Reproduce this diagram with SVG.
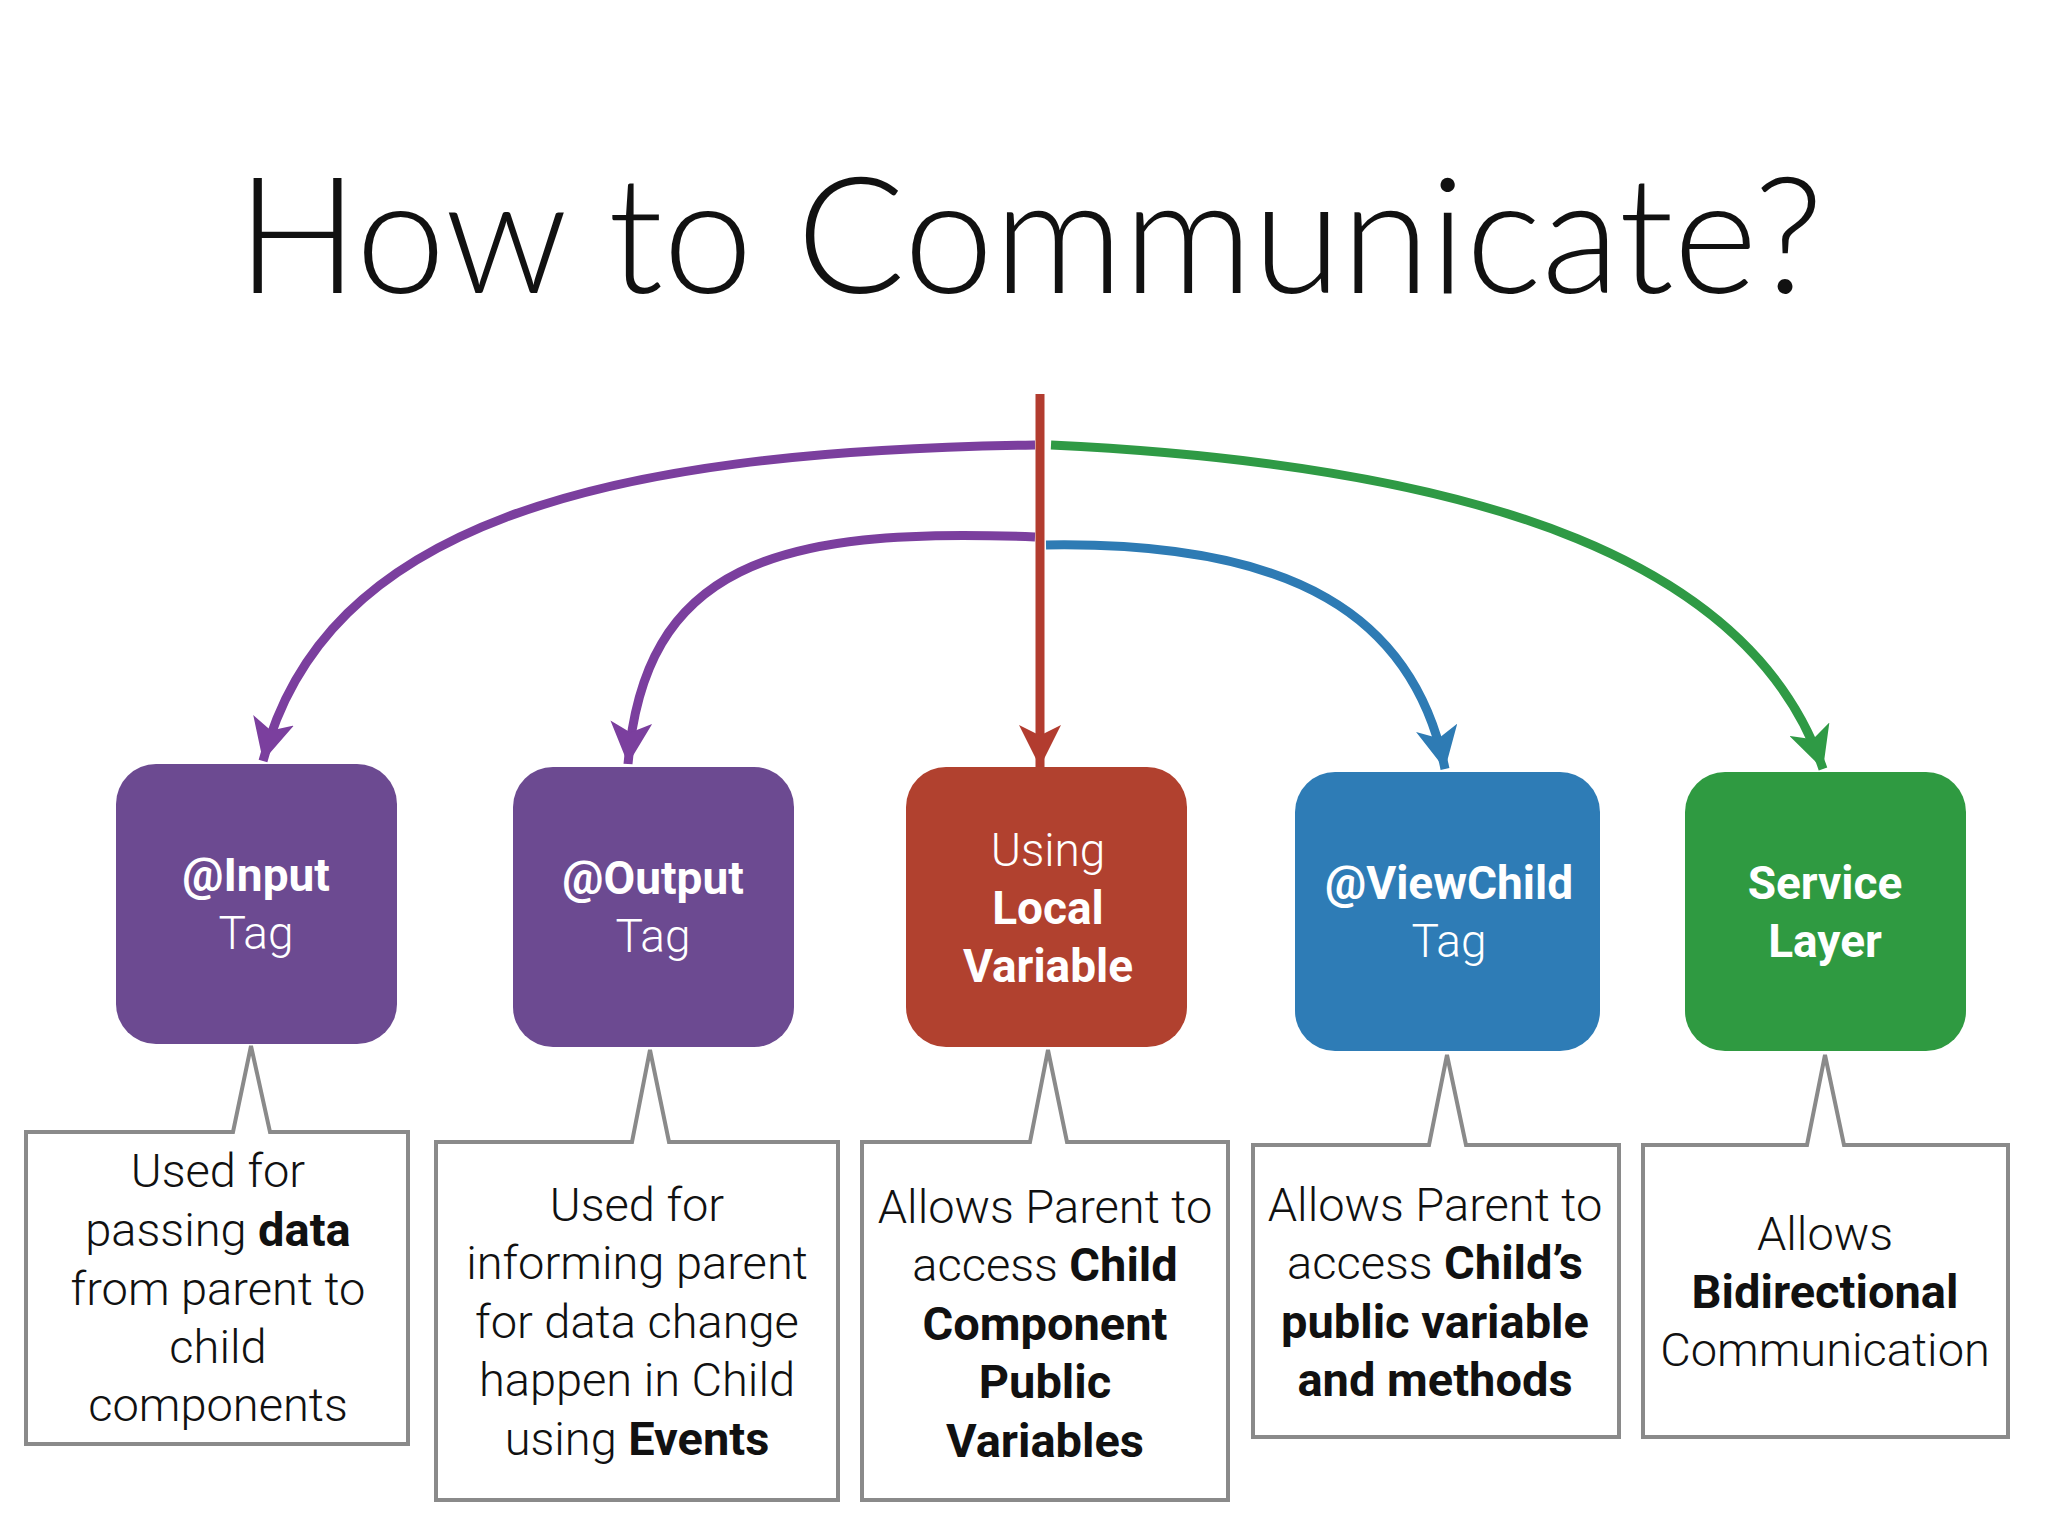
<svg xmlns="http://www.w3.org/2000/svg" width="2048" height="1536" viewBox="0 0 2048 1536">
<defs>
<style>
.title{font-family:Lato,"Open Sans",sans-serif;font-weight:300;font-size:161px;fill:#111}
.bt{font-family:Roboto,"Liberation Sans",sans-serif;font-size:46px;fill:#fff;text-anchor:middle}
.b{font-weight:700}
.l{font-weight:300}
.ct{font-family:Roboto,"Liberation Sans",sans-serif;font-weight:300;font-size:47px;fill:#111;text-anchor:middle}
.call{fill:#fff;stroke:#8a8a8a;stroke-width:4}
.ln{fill:none;stroke-width:9}
</style>
<marker id="aP" viewBox="0 0 10 10" refX="10" refY="5" markerWidth="42" markerHeight="42" markerUnits="userSpaceOnUse" orient="auto"><path d="M0,0 L10,5 L0,10 L2.5,5 z" fill="#7b3f9e"/></marker>
<marker id="aR" viewBox="0 0 10 10" refX="10" refY="5" markerWidth="42" markerHeight="42" markerUnits="userSpaceOnUse" orient="auto"><path d="M0,0 L10,5 L0,10 L2.5,5 z" fill="#b23c2f"/></marker>
<marker id="aB" viewBox="0 0 10 10" refX="10" refY="5" markerWidth="42" markerHeight="42" markerUnits="userSpaceOnUse" orient="auto"><path d="M0,0 L10,5 L0,10 L2.5,5 z" fill="#2e7bb4"/></marker>
<marker id="aG" viewBox="0 0 10 10" refX="10" refY="5" markerWidth="42" markerHeight="42" markerUnits="userSpaceOnUse" orient="auto"><path d="M0,0 L10,5 L0,10 L2.5,5 z" fill="#2f9a45"/></marker>
</defs>
<rect width="2048" height="1536" fill="#fff"/>
<text class="title" x="1030" y="293" text-anchor="middle">How to Communicate?</text>
<g transform="translate(-6,-4)">
<g id="connectors">
<path class="ln" stroke="#7b3f9e" d="M1041 449 C600 455 330 530 269 765" marker-end="url(#aP)"/>
<path class="ln" stroke="#7b3f9e" d="M1041 541 C780 530 650 570 634 768" marker-end="url(#aP)"/>
<path class="ln" stroke="#2e7bb4" d="M1052 549 C1300 545 1420 620 1451 773" marker-end="url(#aB)"/>
<path class="ln" stroke="#2f9a45" d="M1057 449 C1500 470 1760 570 1829 773" marker-end="url(#aG)"/>
<path class="ln" stroke="#b23c2f" d="M1046 398 L1046 771" marker-end="url(#aR)"/>
</g>
<g id="n1"><rect x="122" y="768" width="281" height="280" rx="40" fill="#6c4a91"/>
<text class="bt" x="262" y="895"><tspan class="b">@Input</tspan><tspan class="l" x="262" dy="58">Tag</tspan></text></g>
<g id="n2"><rect x="519" y="771" width="281" height="280" rx="40" fill="#6c4a91"/>
<text class="bt" x="659" y="898"><tspan class="b">@Output</tspan><tspan class="l" x="659" dy="58">Tag</tspan></text></g>
<g id="n3"><rect x="912" y="771" width="281" height="280" rx="40" fill="#b1412f"/>
<text class="bt" x="1054" y="870"><tspan class="l">Using</tspan><tspan class="b" x="1054" dy="58">Local</tspan><tspan class="b" x="1054" dy="58">Variable</tspan></text></g>
<g id="n4"><rect x="1301" y="776" width="305" height="279" rx="40" fill="#2e7cb6"/>
<text class="bt" x="1455" y="903"><tspan class="b">@ViewChild</tspan><tspan class="l" x="1455" dy="58">Tag</tspan></text></g>
<g id="n5"><rect x="1691" y="776" width="281" height="279" rx="40" fill="#2f9a41"/>
<text class="bt" x="1831" y="903"><tspan class="b">Service</tspan><tspan class="b" x="1831" dy="58">Layer</tspan></text></g>
<g id="c1"><path class="call" d="M32 1136 H239 L257 1050 L276 1136 H414 V1448 H32 Z"/>
<text class="ct" x="224" y="1191">Used for<tspan x="224" dy="59">passing <tspan class="b">data</tspan></tspan><tspan x="224" dy="59">from parent to</tspan><tspan x="224" dy="58">child</tspan><tspan x="224" dy="58">components</tspan></text></g>
<g id="c2"><path class="call" d="M442 1146 H638 L656 1054 L675 1146 H844 V1504 H442 Z"/>
<text class="ct" x="643" y="1225">Used for<tspan x="643" dy="58">informing parent</tspan><tspan x="643" dy="59">for data change</tspan><tspan x="643" dy="58">happen in Child</tspan><tspan x="643" dy="59">using <tspan class="b">Events</tspan></tspan></text></g>
<g id="c3"><path class="call" d="M868 1146 H1036 L1054 1054 L1073 1146 H1234 V1504 H868 Z"/>
<text class="ct" x="1051" y="1227">Allows Parent to<tspan x="1051" dy="58">access <tspan class="b">Child</tspan></tspan><tspan class="b" x="1051" dy="59">Component</tspan><tspan class="b" x="1051" dy="58">Public</tspan><tspan class="b" x="1051" dy="59">Variables</tspan></text></g>
<g id="c4"><path class="call" d="M1259 1149 H1435 L1453 1059 L1472 1149 H1625 V1441 H1259 Z"/>
<text class="ct" x="1441" y="1225">Allows Parent to<tspan x="1441" dy="58">access <tspan class="b">Child’s</tspan></tspan><tspan class="b" x="1441" dy="59">public variable</tspan><tspan class="b" x="1441" dy="58">and methods</tspan></text></g>
<g id="c5"><path class="call" d="M1649 1149 H1813 L1831 1059 L1850 1149 H2014 V1441 H1649 Z"/>
<text class="ct" x="1831" y="1254">Allows<tspan class="b" x="1831" dy="58">Bidirectional</tspan><tspan x="1831" dy="58">Communication</tspan></text></g>
</g>
</svg>
